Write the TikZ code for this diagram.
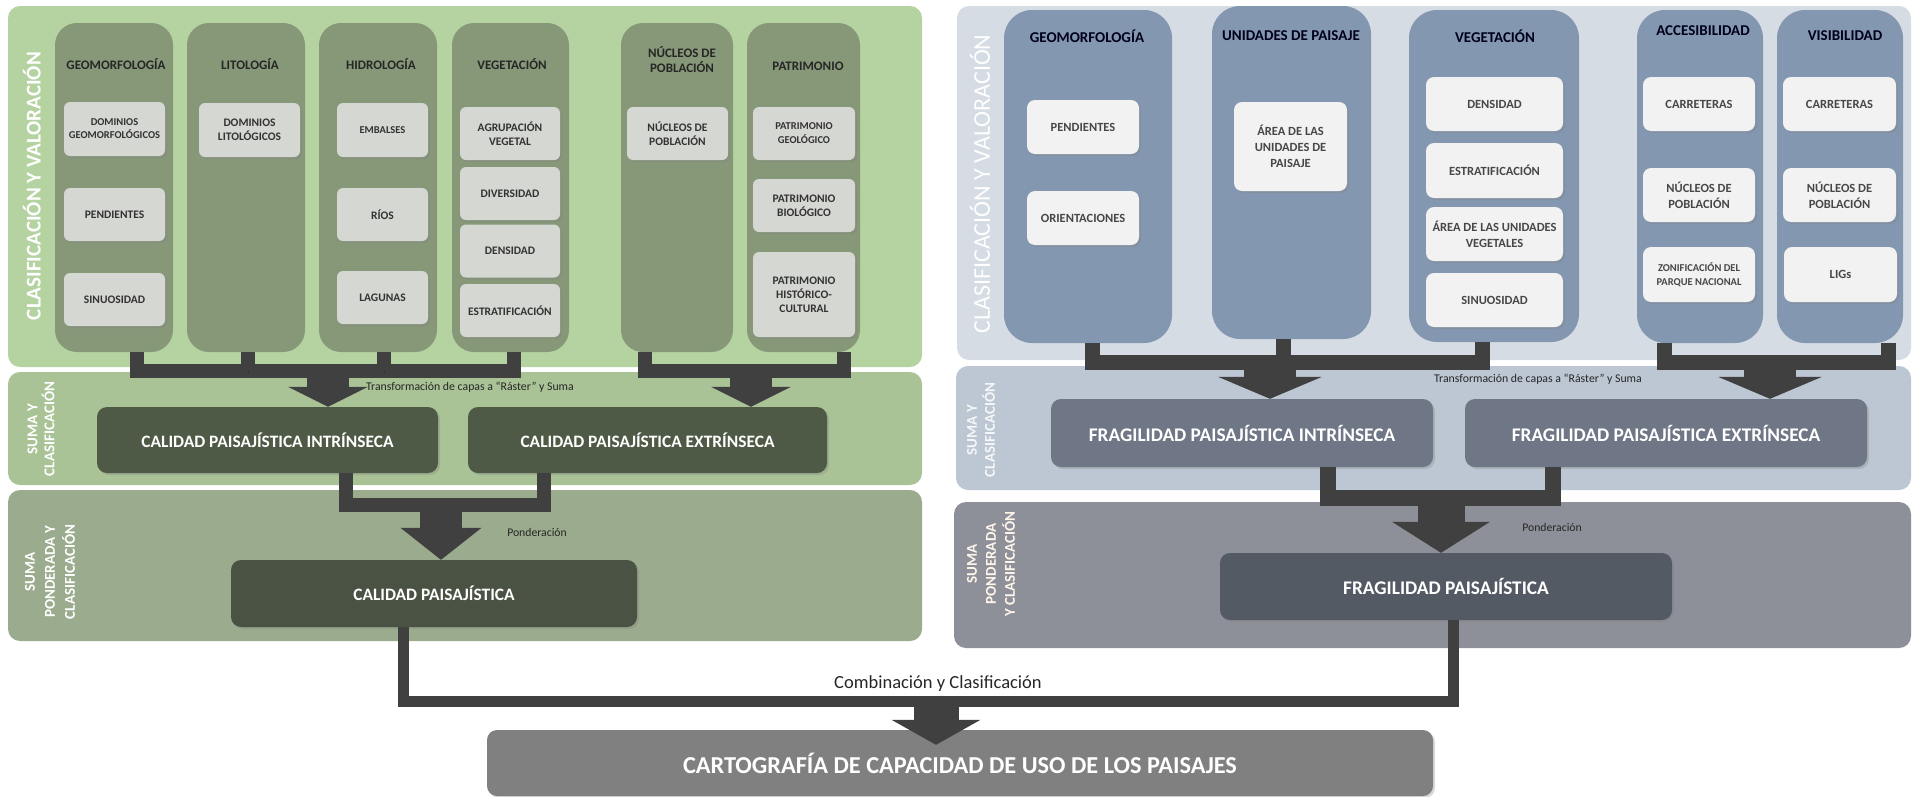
\documentclass[tikz,border=0pt]{standalone}
\usepackage{fontspec}
\setmainfont{Carlito}
\usetikzlibrary{arrows.meta,shadows}

\definecolor{ltopc}{HTML}{B5D3A1}
\definecolor{lmidc}{HTML}{A9C396}
\definecolor{lbotc}{HTML}{9BAB8D}
\definecolor{lcolc}{HTML}{869878}
\definecolor{lboxc}{HTML}{D5D7D3}
\definecolor{lresc}{HTML}{4F5A46}
\definecolor{lfinc}{HTML}{4A5343}
\definecolor{rtopc}{HTML}{D6DCE4}
\definecolor{rmidc}{HTML}{BDC7D3}
\definecolor{rbotc}{HTML}{8D9098}
\definecolor{rcolc}{HTML}{8497B0}
\definecolor{rboxc}{HTML}{F2F2F2}
\definecolor{rresc}{HTML}{6F7686}
\definecolor{rfinc}{HTML}{535A64}
\definecolor{finc}{HTML}{808080}
\definecolor{barc}{HTML}{404040}

\begin{document}
\begin{tikzpicture}[x=1pt,y=-1pt]
    \tikzstyle{panel}=[rounded corners=12pt, inner sep=0pt]
    \tikzstyle{lcol}=[fill=lcolc, rounded corners=22pt, inner sep=0pt, minimum height=329pt]
    \tikzstyle{rcol}=[fill=rcolc, rounded corners=28pt, inner sep=0pt, minimum height=333pt]
    \tikzstyle{lhead}=[font=\fontsize{13}{15}\selectfont\bfseries, text=black!85, align=center, inner sep=0pt]
    \tikzstyle{rhead}=[font=\fontsize{15}{18}\selectfont\bfseries, text=black!90!blue, inner sep=0pt]
    \tikzstyle{softshadow}=[drop shadow={shadow xshift=2pt, shadow yshift=-2pt, opacity=0.3}]
    \tikzstyle{lbox}=[softshadow, fill=lboxc, rounded corners=6pt, minimum width=101pt, minimum height=53pt, inner sep=1pt, align=center, text=black!80, font=\fontsize{11.5}{14}\selectfont\bfseries]
    \tikzstyle{rbox}=[softshadow, fill=rboxc, rounded corners=8pt, minimum width=112pt, minimum height=54pt, inner sep=1pt, align=center, text=black!72, font=\fontsize{12.5}{16}\selectfont\bfseries]
    \tikzstyle{res}=[softshadow, rounded corners=10pt, text=white, align=center]
    \tikzstyle{side}=[rotate=90, text=white, align=center, inner sep=0pt]
    \tikzstyle{note}=[text=black!85, inner sep=0pt]
    \tikzstyle{joinbar}=[draw=barc, line width=14pt, preaction={draw=black, opacity=0.2, transform canvas={yshift=-3pt}}]
    \tikzstyle{blockarrow}=[draw=barc, line width=42pt, -{Triangle[width=80pt,length=20pt,line width=0pt]}]
    \tikzstyle{rarrow}=[draw=barc, line width=52pt, -{Triangle[width=104pt,length=22pt,line width=0pt]}]
    \useasboundingbox (0,0) rectangle (1916,796);

    % panels
    \node[panel, fill=ltopc, minimum width=914pt, minimum height=361pt] (ltop) at (465,186.5) {};
    \node[panel, fill=lmidc, minimum width=914pt, minimum height=113pt] (lmid) at (465,428.5) {};
    \node[panel, fill=lbotc, minimum width=914pt, minimum height=151pt] (lbot) at (465,565.5) {};
    \node[panel, fill=rtopc, minimum width=954pt, minimum height=354pt] (rtop) at (1434,183) {};
    \node[panel, fill=rmidc, minimum width=955pt, minimum height=124pt] (rmid) at (1433.5,428) {};
    \node[panel, fill=rbotc, minimum width=957pt, minimum height=146pt] (rbot) at (1432.5,575) {};

    \node[side, font=\fontsize{21}{25}\selectfont\bfseries] (ltoplab) at (32,186) {CLASIFICACIÓN Y VALORACIÓN};
    \node[side, font=\fontsize{15}{17}\selectfont\bfseries] (lmidlab) at (41,429) {SUMA Y\\CLASIFICACIÓN};
    \node[side, font=\fontsize{15}{20}\selectfont\bfseries] (lbotlab) at (50,572) {SUMA\\PONDERADA Y\\CLASIFICACIÓN};
    \node[side, font=\fontsize{24}{28}\selectfont] (rtoplab) at (980,184) {CLASIFICACIÓN Y VALORACIÓN};
    \node[side, text=white!85!rmidc, font=\fontsize{15}{18}\selectfont\bfseries] (rmidlab) at (981,430) {SUMA Y\\CLASIFICACIÓN};
    \node[side, text=white!92!orange, font=\fontsize{15}{19}\selectfont\bfseries] (rbotlab) at (991,564) {SUMA\\PONDERADA\\Y CLASIFICACIÓN};

    % left columns
    \node[lcol, minimum width=118pt] (lgeo) at (114,187.5) {};
    \node[lcol, minimum width=118pt] (llit) at (246,187.5) {};
    \node[lcol, minimum width=118pt] (lhid) at (378,187.5) {};
    \node[lcol, minimum width=117pt] (lveg) at (510.5,187.5) {};
    \node[lcol, minimum width=112pt] (lnuc) at (677,187.5) {};
    \node[lcol, minimum width=113pt] (lpat) at (803.5,187.5) {};
    \node[lhead] (lgeoh) at (116,64) {GEOMORFOLOGÍA};
    \node[lhead] (llith) at (250,64) {LITOLOGÍA};
    \node[lhead] (lhidh) at (381,64) {HIDROLOGÍA};
    \node[lhead] (lvegh) at (512,64) {VEGETACIÓN};
    \node[lhead] (lnuch) at (682,60) {NÚCLEOS DE\\POBLACIÓN};
    \node[lhead] (lpath) at (808,66) {PATRIMONIO};

    \node[lbox, font=\fontsize{10.5}{13}\selectfont\bfseries, minimum height=54pt] (ldom) at (114.5,129) {DOMINIOS\\GEOMORFOLÓGICOS};
    \node[lbox] (lpen) at (114.5,214.5) {PENDIENTES};
    \node[lbox] (lsin) at (114.5,299.5) {SINUOSIDAD};
    \node[lbox, minimum height=54pt] (llitd) at (249.5,130) {DOMINIOS\\LITOLÓGICOS};
    \node[lbox, minimum width=91pt, minimum height=54pt, font=\fontsize{10.5}{13}\selectfont\bfseries] (lemb) at (382.5,130) {EMBALSES};
    \node[lbox, minimum width=91pt] (lrio) at (382.5,214.5) {RÍOS};
    \node[lbox, minimum width=91pt] (llag) at (382.5,297.5) {LAGUNAS};
    \node[lbox, minimum width=100pt] (lagr) at (510,133.5) {AGRUPACIÓN\\VEGETAL};
    \node[lbox, minimum width=100pt] (ldiv) at (510,193.5) {DIVERSIDAD};
    \node[lbox, minimum width=100pt] (lden) at (510,251) {DENSIDAD};
    \node[lbox, minimum width=100pt] (lest) at (510,310.5) {ESTRATIFICACIÓN};
    \node[lbox] (lnucb) at (677.5,133.5) {NÚCLEOS DE\\POBLACIÓN};
    \node[lbox, minimum width=102pt, font=\fontsize{10.5}{14}\selectfont\bfseries] (lpgeo) at (804,133.5) {PATRIMONIO\\GEOLÓGICO};
    \node[lbox, minimum width=102pt] (lpbio) at (804,205.5) {PATRIMONIO\\BIOLÓGICO};
    \node[lbox, minimum width=102pt, minimum height=85pt] (lphis) at (804,294.5) {PATRIMONIO\\HISTÓRICO-\\CULTURAL};

    % right columns
    \node[rcol, minimum width=168pt] (rgeo) at (1088,176.5) {};
    \node[rcol, minimum width=159pt] (runi) at (1291.5,172.5) {};
    \node[rcol, minimum width=170pt, minimum height=332pt] (rveg) at (1494,176) {};
    \node[rcol, minimum width=126pt] (racc) at (1700,176.5) {};
    \node[rcol, minimum width=126pt] (rvis) at (1840,176.5) {};
    \node[rhead] (rgeoh) at (1087,36) {GEOMORFOLOGÍA};
    \node[rhead] (runih) at (1291,36) {UNIDADES DE PAISAJE};
    \node[rhead] (rvegh) at (1495,36) {VEGETACIÓN};
    \node[rhead] (racch) at (1703,31) {ACCESIBILIDAD};
    \node[rhead] (rvish) at (1845,36) {VISIBILIDAD};

    \node[rbox] (rpen) at (1083,127) {PENDIENTES};
    \node[rbox] (rori) at (1083,218) {ORIENTACIONES};
    \node[rbox, minimum width=113pt, minimum height=89pt] (rarea) at (1290.5,146.5) {ÁREA DE LAS\\UNIDADES DE\\PAISAJE};
    \node[rbox, minimum width=137pt] (rden) at (1494.5,104) {DENSIDAD};
    \node[rbox, minimum width=137pt, minimum height=55pt] (rest) at (1494.5,170.5) {ESTRATIFICACIÓN};
    \node[rbox, minimum width=137pt] (rauv) at (1494.5,234) {ÁREA DE LAS UNIDADES\\VEGETALES};
    \node[rbox, minimum width=137pt] (rsin) at (1494.5,300) {SINUOSIDAD};
    \node[rbox] (rcar1) at (1699,104) {CARRETERAS};
    \node[rbox] (rnuc1) at (1699,195) {NÚCLEOS DE\\POBLACIÓN};
    \node[rbox, minimum height=55pt, font=\fontsize{10.5}{14}\selectfont\bfseries] (rzon) at (1699,274.5) {ZONIFICACIÓN DEL\\PARQUE NACIONAL};
    \node[rbox, minimum width=113pt] (rcar2) at (1839.5,104) {CARRETERAS};
    \node[rbox, minimum width=113pt] (rnuc2) at (1839.5,195) {NÚCLEOS DE\\POBLACIÓN};
    \node[rbox, minimum width=113pt, minimum height=55pt] (rlig) at (1840.5,274.5) {LIGs};

    % results
    \node[res, fill=lresc, minimum width=341pt, minimum height=66pt, font=\fontsize{17.4}{20}\selectfont\bfseries] (lint) at (267.5,440) {CALIDAD PAISAJÍSTICA INTRÍNSECA};
    \node[res, fill=lresc, minimum width=359pt, minimum height=66pt, font=\fontsize{17.4}{20}\selectfont\bfseries] (lext) at (647.5,440) {CALIDAD PAISAJÍSTICA EXTRÍNSECA};
    \node[res, fill=lfinc, minimum width=406pt, minimum height=67pt, font=\fontsize{17.4}{20}\selectfont\bfseries] (lcal) at (434,593.5) {CALIDAD PAISAJÍSTICA};
    \node[res, fill=rresc, minimum width=382pt, minimum height=68pt, font=\fontsize{19.3}{22}\selectfont\bfseries] (rint) at (1242,433) {FRAGILIDAD PAISAJÍSTICA INTRÍNSECA};
    \node[res, fill=rresc, minimum width=402pt, minimum height=68pt, font=\fontsize{19.3}{22}\selectfont\bfseries] (rext) at (1666,433) {FRAGILIDAD PAISAJÍSTICA EXTRÍNSECA};
    \node[res, fill=rfinc, minimum width=452pt, minimum height=67pt, font=\fontsize{19.3}{22}\selectfont\bfseries] (rfra) at (1446,586.5) {FRAGILIDAD PAISAJÍSTICA};
    \node[res, fill=finc, minimum width=946pt, minimum height=66pt, font=\fontsize{24.3}{28}\selectfont\bfseries] (fin) at (960,763) {CARTOGRAFÍA DE CAPACIDAD DE USO DE LOS PAISAJES};

    % labels
    \node[note, font=\fontsize{11.8}{14}\selectfont] (ltra) at (470,387) {Transformación de capas a “Ráster” y Suma};
    \node[note, font=\fontsize{11.8}{14}\selectfont] (rtra) at (1538,379) {Transformación de capas a “Ráster” y Suma};
    \node[note, font=\fontsize{11.7}{14}\selectfont] (lpon) at (537,532) {Ponderación};
    \node[note, font=\fontsize{11.7}{14}\selectfont] (rpon) at (1552,527) {Ponderación};
    \node[note, font=\fontsize{18.5}{22}\selectfont] (comb) at (938,684) {Combinación y Clasificación};

    % joins and arrows
    \coordinate (lj1) at (328,371);
    \coordinate (lj2) at (751,371);
    \coordinate (lj3) at (441,505);
    \coordinate (rj1) at (1270,362);
    \coordinate (rj2) at (1770,362);
    \coordinate (rj3) at (1441,498);
    \coordinate (fj) at (936,701);

    \draw[joinbar] ([xshift=23pt]lgeo.south) |- (lj1) -| ([xshift=3.5pt]lveg.south);
    \draw[joinbar] ([xshift=2pt]llit.south) -- ([xshift=2pt]llit.south |- lj1);
    \draw[joinbar] ([xshift=6pt]lhid.south) -- ([xshift=6pt]lhid.south |- lj1);
    \draw[blockarrow] (lj1) -- (lj1 |- lint.north);
    \draw[joinbar] ([xshift=-32pt]lnuc.south) |- (lj2) -| ([xshift=40.5pt]lpat.south);
    \draw[blockarrow] (lj2) -- (lj2 |- lext.north);
    \draw[joinbar] ([xshift=78.5pt]lint.south) |- (lj3) -| ([xshift=-103.5pt]lext.south);
    \draw[blockarrow, -{Triangle[width=81pt,length=32pt,line width=0pt]}] (lj3) -- (lj3 |- lcal.north);

    \draw[joinbar, line width=15pt] ([xshift=4pt]rgeo.south) |- (rj1) -| ([xshift=-12pt]rveg.south);
    \draw[joinbar, line width=15pt] ([xshift=-8.5pt]runi.south) -- ([xshift=-8.5pt]runi.south |- rj1);
    \draw[rarrow] (rj1) -- (rj1 |- rint.north);
    \draw[joinbar, line width=15pt] ([xshift=-36pt]racc.south) |- (rj2) -| ([xshift=48pt]rvis.south);
    \draw[rarrow] (rj2) -- (rj2 |- rext.north);
    \draw[joinbar, line width=16pt] ([xshift=86pt]rint.south) |- (rj3) -| ([xshift=-113pt]rext.south);
    \draw[rarrow, line width=47pt, -{Triangle[width=98pt,length=31pt,line width=0pt]}] (rj3) -- (rj3 |- rfra.north);

    \draw[joinbar, line width=11pt] ([xshift=-31pt]lcal.south) |- (fj) -| ([xshift=7pt]rfra.south);
    \draw[blockarrow, line width=45pt, -{Triangle[width=89pt,length=25pt,line width=0pt]}] (fj) -- ([yshift=-15pt]fin.north -| fj);
\end{tikzpicture}
\end{document}
